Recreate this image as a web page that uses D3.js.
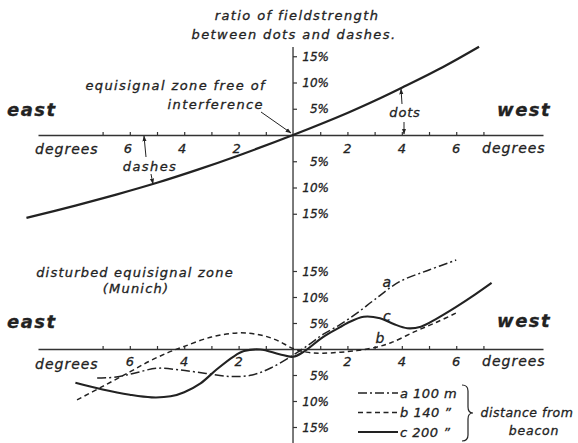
<!DOCTYPE html>
<html><head><meta charset="utf-8">
<script src="https://cdn.jsdelivr.net/npm/d3@7"></script>
<style>
body{margin:0;background:#fff;}
svg text{font-family:"DejaVu Sans",sans-serif;font-style:italic;fill:#222;stroke:#222;stroke-width:0.3px;}
</style></head><body>
<svg id="c" width="578" height="443"></svg>
<script>
// ---- data ----
const upperDeg = [-9.8,-8,-6.5,-5,-3.5,-2,0,2,3.2,4,5.5,6.84];
const upperPct = [-15.8,-13.45,-11.35,-9.1,-6.6,-3.9,0,4.2,7.0,9.0,12.9,16.8];

const aDeg = [-7.2,-6.5,-5.8,-5.0,-4.2,-3.2,-2.3,-1.5,-0.8,0,0.6,1.1,1.7,2.35,3.0,3.9,5.0,6.0];
const aPct = [-5.6,-5.4,-4.6,-3.7,-4.0,-4.7,-5.3,-5.0,-3.6,-1.2,0.9,2.8,4.6,6.9,9.5,12.9,15.2,17.1];

const bDeg = [-7.94,-7,-6,-5.3,-4.6,-4.0,-3,-2,-1.2,-0.6,0,0.5,1.1,2.35,3.1,3.6,4.5,5.3,6.07];
const bPct = [-9.8,-7.2,-4.4,-2.4,-0.7,0.5,2.3,3.1,2.7,1.7,0.1,-0.6,-0.8,-0.3,0.4,1.2,3.4,5.2,7.1];

const cDeg = [-8.0,-7.0,-6.0,-5.2,-4.5,-4.0,-3.4,-2.8,-2.2,-1.8,-1.2,-0.5,0,0.4,1.1,1.73,2.0,2.6,3.2,3.7,4.2,4.7,5.3,6.0,6.7,7.3];
const cPct = [-6.5,-7.8,-8.8,-9.3,-9.1,-8.3,-6.6,-3.9,-1.5,-0.4,-0.1,-1.0,-1.5,-0.5,2.3,4.2,5.0,6.2,5.9,4.8,4.0,4.3,5.9,8.1,10.5,12.7];

const degTicks = [-7,-6,-5,-4,-3,-2,-1,1,2,3,4,5,6,7];
const degLabels = [-6,-4,-2,2,4,6];
const pctTicks = [-15,-10,-5,5,10,15];

const legendKeys = ["a","b","c"];
const legendText = ["a  100 m", "b  140 \u201d", "c  200 \u201d"];

// ---- scales ----
const svg = d3.select("#c");
const ink = "#222";
const x  = d3.scaleLinear().domain([-9.375, 9.19]).range([38, 543]);
const yU = d3.scaleLinear().domain([-15, 15]).range([213.75, 56.25]);
const yL = d3.scaleLinear().domain([-15, 15]).range([427, 271]);

// markers
const defs = svg.append("defs");
defs.append("marker").attr("id","ah").attr("viewBox","0 0 10 10").attr("refX",9).attr("refY",5)
  .attr("markerWidth",6).attr("markerHeight",6).attr("orient","auto-start-reverse")
  .append("path").attr("d","M0,1.5 L10,5 L0,8.5 Z").attr("fill",ink);

// vertical axis
svg.append("line").attr("x1",x(0)).attr("x2",x(0)).attr("y1",47).attr("y2",443)
  .attr("stroke","#333").attr("stroke-width",1.3);

function panel(y, labelDy, degLabelShift){
  const gx = svg.append("g").attr("transform",`translate(0,${y(0)})`)
    .call(d3.axisTop(x).tickValues(degTicks).tickSize(3).tickSizeOuter(0).tickFormat(""));
  gx.select(".domain").attr("stroke","#333").attr("stroke-width",1.3);
  gx.selectAll(".tick line").attr("stroke","#333").attr("stroke-width",1.2);
  const gy = svg.append("g").attr("transform",`translate(${x(0)},0)`)
    .call(d3.axisRight(y).tickValues(pctTicks).tickSize(4).tickFormat(""));
  gy.select(".domain").remove();
  gy.selectAll(".tick line").attr("stroke","#333").attr("stroke-width",1.2);
  svg.append("g").selectAll("text").data(pctTicks).join("text")
    .attr("x",329).attr("y",d=>y(d)+4.5).attr("text-anchor","end")
    .attr("font-size",12).text(d=>Math.abs(d)+"%");
  svg.append("g").selectAll("text").data(degLabels).join("text")
    .attr("x",d=>x(d)+(d<0?degLabelShift:0)).attr("y",y(0)+labelDy).attr("text-anchor","middle")
    .attr("font-size",13).text(d=>Math.abs(d));
}
panel(yU, 17.5, -2);
panel(yL, 16.5, 0);

const curve = d3.curveCatmullRom.alpha(0.5);

// upper curve
const lineU = d3.line().x(d=>x(d[0])).y(d=>yU(d[1])).curve(curve);
svg.append("path").datum(d3.zip(upperDeg, upperPct)).attr("d", lineU)
  .attr("fill","none").attr("stroke",ink).attr("stroke-width",2.3);

// lower curves
const lineL = d3.line().x(d=>x(d[0])).y(d=>yL(d[1])).curve(curve);
const styles = {
  a:{dash:"9,3,2,3", w:1.5},
  b:{dash:"5,3.5", w:1.5},
  c:{dash:null, w:2.1}
};
[["a",aDeg,aPct],["b",bDeg,bPct],["c",cDeg,cPct]].forEach(([k,xs,ys])=>{
  svg.append("path").datum(d3.zip(xs,ys)).attr("d",lineL)
    .attr("fill","none").attr("stroke",ink).attr("stroke-width",styles[k].w)
    .attr("stroke-dasharray",styles[k].dash);
});
svg.append("text").attr("x",x(3.45)).attr("y",yL(12.8)+5).attr("text-anchor","middle").attr("font-size",14).text("a");
svg.append("text").attr("x",x(3.45)).attr("y",yL(6.3)+5).attr("text-anchor","middle").attr("font-size",14).text("c");
svg.append("text").attr("x",x(3.2)).attr("y",yL(2.1)+5).attr("text-anchor","middle").attr("font-size",14).text("b");

// legend
legendKeys.forEach((k,i)=>{
  const ly = 393 + i*19.5;
  svg.append("line").attr("x1",358).attr("x2",398).attr("y1",ly).attr("y2",ly)
    .attr("stroke",ink).attr("stroke-width",styles[k].w).attr("stroke-dasharray",styles[k].dash);
  svg.append("text").attr("x",400).attr("y",ly+4.5).attr("font-size",13).attr("letter-spacing",0.5).text(legendText[i]);
});
svg.append("path").attr("d","M462,385 Q468,385 468,391 L468,407 Q468,413 473,413 Q468,413 468,419 L468,435 Q468,441 462,441")
  .attr("fill","none").attr("stroke",ink).attr("stroke-width",1.2);
svg.append("text").attr("x",527).attr("y",417).attr("text-anchor","middle").attr("font-size",12.5).attr("letter-spacing",0.5).text("distance from");
svg.append("text").attr("x",534).attr("y",435).attr("text-anchor","middle").attr("font-size",12.5).attr("letter-spacing",0.8).text("beacon");

// texts
function t(str,xp,yp,opt={}){
  const e = svg.append("text").attr("x",xp).attr("y",yp).text(str)
    .attr("font-size",opt.size||13).attr("letter-spacing",opt.ls!==undefined?opt.ls:1.4)
    .attr("text-anchor",opt.anchor||"start");
  if(opt.bold) e.attr("font-weight","bold");
  return e;
}
t("ratio of fieldstrength",297,20,{anchor:"middle"});
t("between dots and dashes.",294,39,{anchor:"middle"});
t("equisignal zone free of",266,90,{anchor:"end"});
t("interference",264,109,{anchor:"end"});
t("east",7,116,{size:18,bold:true,ls:1.5});
t("west",497,116,{size:18,bold:true,ls:1.5});
t("degrees",35,154,{size:14,ls:1});
t("degrees",482,153,{size:14,ls:1});
t("dashes",150,171,{anchor:"middle"});
t("dots",405,117,{anchor:"middle",ls:0.8});
t("disturbed equisignal zone",135,277,{anchor:"middle",ls:1.2});
t("(Munich)",136,293,{anchor:"middle",ls:1.2});
t("east",7,328,{size:18,bold:true,ls:1.5});
t("west",497,327,{size:18,bold:true,ls:1.5});
t("degrees",35,369,{size:14,ls:1});
t("degrees",482,366,{size:14,ls:1});

// arrows
function arrow(x1,y1,x2,y2){
  svg.append("line").attr("x1",x1).attr("y1",y1).attr("x2",x2).attr("y2",y2)
    .attr("stroke",ink).attr("stroke-width",1).attr("marker-end","url(#ah)");
}
arrow(261,112,x(0)-2,yU(0)-2);
arrow(146,157,144,yU(0)+1);
arrow(151,174,153,184);
arrow(402,104,401,89);
arrow(404,122,404,yU(0)-1);
</script>
</body></html>
